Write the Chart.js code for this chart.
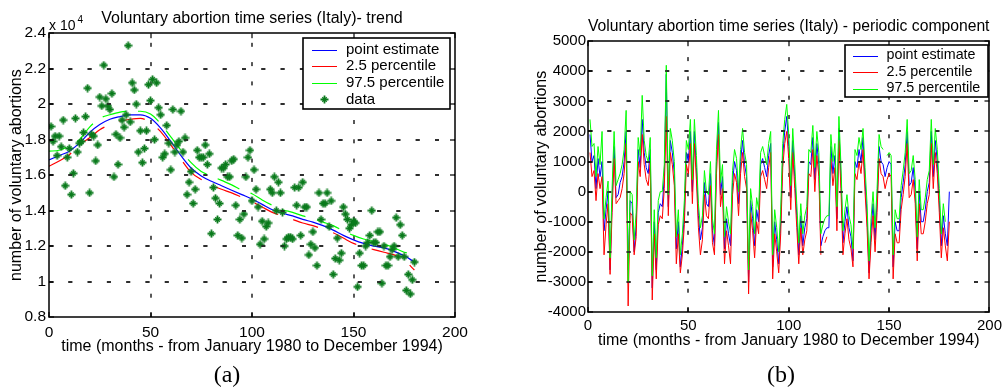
<!DOCTYPE html>
<html><head><meta charset="utf-8">
<script src="https://cdn.jsdelivr.net/npm/chart.js@4.4.0/dist/chart.umd.min.js"></script>
<style>
html,body{margin:0;padding:0;background:#fff;}
#wrap{position:relative;width:1007px;height:390px;overflow:hidden;font-family:"Liberation Sans",Arial,sans-serif;color:#000;}
#c1{position:absolute;left:0;top:0;width:504px;height:390px;}
#c2{position:absolute;left:505px;top:0;width:502px;height:390px;}
.cap{position:absolute;width:60px;text-align:center;font-family:"Liberation Serif","Times New Roman",serif;font-size:24px;line-height:24px;top:362px;}
#exp{position:absolute;left:49px;top:17px;font-size:14px;line-height:16px;white-space:nowrap;}
#exp span{position:relative;font-size:10px;top:-7px;left:2px;}
</style></head>
<body><div id="wrap">
<canvas id="c1" width="504" height="390"></canvas>
<canvas id="c2" width="502" height="390"></canvas>
<div id="exp">x 10<span>4</span></div>
<div class="cap" id="capA" style="left:197px">(a)</div>
<div class="cap" id="capB" style="left:751px">(b)</div>
</div>
<script>
const F = '"Liberation Sans", Arial, sans-serif';

// ---------- Panel (a): trend (values in units of 10^4) ----------
const monthIdx = Array.from({length:180}, (_, i) => i + 1);
const abortionData = [
 1.874,1.79,1.82,1.71,1.82,1.76,1.91,1.54,1.70,1.75,
 1.49,1.61,1.92,1.73,1.78,1.79,1.84,1.93,2.09,1.50,
 1.83,1.82,1.68,1.77,2.04,1.99,2.22,2.03,1.99,1.97,
 2.06,1.59,1.83,1.66,1.81,1.91,1.87,1.94,2.33,1.90,
 2.12,2.08,2.00,1.73,1.85,1.67,1.75,1.85,2.11,2.02,
 2.14,1.80,2.12,1.98,1.94,1.70,1.72,1.88,1.78,1.63,
 1.97,1.73,1.77,1.79,1.96,1.73,1.81,1.49,1.56,1.62,
 1.44,1.52,1.74,1.70,1.70,1.70,1.77,1.66,1.72,1.27,
 1.53,1.47,1.35,1.44,1.64,1.64,1.66,1.59,1.59,1.68,
 1.69,1.43,1.26,1.35,1.245,1.38,1.59,1.70,1.74,1.455,
 1.63,1.52,1.42,1.21,1.34,1.24,1.31,1.33,1.52,1.50,
 1.59,1.40,1.56,1.50,1.39,1.20,1.24,1.25,1.25,1.24,
 1.53,1.43,1.53,1.26,1.56,1.42,1.42,1.15,1.21,1.28,
 1.19,1.09,1.50,1.35,1.44,1.44,1.50,1.31,1.455,1.04,
 1.13,1.245,1.12,1.16,1.42,1.38,1.35,1.30,1.32,1.34,
 1.33,0.97,1.16,1.09,1.09,1.20,1.22,1.26,1.40,1.22,
 1.22,1.28,1.28,0.99,1.20,1.09,1.09,1.14,1.18,1.20,
 1.36,1.14,1.32,1.26,1.14,0.95,1.04,0.93,1.01,1.11
];
const trendMonths = [0,5,10,15,20,25,30,35,40,45,50,55,60,65,70,75,80,85,90,95,100,105,110,115,120,125,130,135,140,145,150,155,160,165,170,175,180];
const trendPoint = [1.685,1.71,1.735,1.78,1.84,1.885,1.915,1.93,1.94,1.94,1.92,1.865,1.79,1.71,1.64,1.595,1.565,1.54,1.515,1.49,1.465,1.435,1.405,1.385,1.37,1.35,1.335,1.315,1.29,1.26,1.235,1.215,1.20,1.19,1.17,1.145,1.11];
const trendP025  = [1.65,1.68,1.715,1.77,1.81,1.855,1.885,1.905,1.915,1.92,1.895,1.845,1.77,1.69,1.615,1.575,1.545,1.52,1.50,1.475,1.45,1.42,1.39,1.37,1.35,1.33,1.315,1.295,1.275,1.245,1.215,1.195,1.18,1.165,1.15,1.12,1.065];
const trendP975  = [1.735,1.74,1.765,1.80,1.87,1.92,1.94,1.955,1.96,1.96,1.945,1.89,1.815,1.74,1.67,1.62,1.595,1.57,1.545,1.515,1.495,1.46,1.43,1.405,1.39,1.37,1.355,1.335,1.315,1.285,1.26,1.24,1.225,1.21,1.19,1.165,1.155];

// ---------- Panel (b): periodic component ----------
const periodicPoint = [
 1900,1000,1200,100,1100,500,1000,-1300,-600,0,
 -2600,-300,1500,-200,-100,300,500,1000,2000,-2600,
 -300,-400,-2000,-1100,1400,800,2400,1300,800,600,
 1400,-3200,-1000,-2600,-700,-400,-500,500,3900,-500,
 1700,1300,600,-1900,-1000,-2500,-1800,-700,1300,1000,
 2000,0,2000,800,-800,-1600,-1200,300,-400,-500,
 600,-1300,-1800,1000,2300,-100,500,-1900,-900,-1400,
 -1800,300,1000,700,-400,1000,1700,900,500,-3000,
 -300,-900,-1800,-600,-1000,900,1100,800,500,1200,
 1600,-2500,-1000,-1600,-2400,-1000,1200,2000,2500,1500,
 -200,1700,500,-800,-2100,-800,-1800,-1200,-900,1000,
 900,1800,400,1600,900,-1800,-1500,-1300,-1200,-1200,
 1500,600,1200,-900,2100,500,-1700,-1000,-500,-1200,
 -1500,-2300,1000,800,1400,1000,1800,400,-800,-2700,
 -1300,-400,-1600,-300,1500,1000,900,500,800,1000,
 900,-2500,-1000,-1300,-1300,-200,300,900,2000,200,
 300,800,0,-1900,0,-1000,-1000,-600,0,300,
 2000,500,1700,1000,-300,-1800,-800,-1400,-1800,0
];
const periodicP025 = [
 1300,500,700,-300,600,100,500,-2100,-1100,-400,
 -2750,-700,1100,-400,-300,-200,100,600,1600,-3800,
 -700,-800,-2100,-1500,1000,500,1900,900,400,200,
 1000,-3600,-1400,-2900,-1100,-800,-900,100,2500,-800,
 1300,900,200,-2400,-1400,-2700,-2100,-1100,900,600,
 1600,-400,1600,400,-1200,-2100,-1600,-100,-800,-900,
 200,-1700,-2100,600,1900,-500,100,-2400,-1300,-1800,
 -2400,-100,600,300,-800,600,1300,500,100,-3400,
 -700,-1300,-2200,-1000,-1400,500,700,400,100,800,
 1300,-2900,-1400,-2000,-2700,-1400,800,1600,2000,1100,
 -600,1300,100,-1200,-2400,-1200,-2100,-1600,-1300,600,
 500,1400,0,1200,500,-2100,null,-1700,-1500,null,
 1100,200,800,-1300,1700,100,-2100,-1400,-900,-1600,
 -1900,-2500,600,400,1000,600,1400,0,-1200,-2900,
 -1700,-800,-2000,-700,1100,600,500,100,400,600,
 500,-2900,-1400,-1700,-1700,-600,-100,500,1600,-200,
 -100,400,-400,-2300,-400,-1400,-1400,-1000,-400,-100,
 1600,100,1300,600,-700,-2200,-1200,-1800,-2300,-1000
];
const periodicP975 = [
 2400,1500,1600,500,1500,900,2000,-900,-200,350,
 -2200,100,2000,200,400,600,900,1400,2700,-3000,
 0,-100,-1600,-700,1800,1200,3200,1700,1200,1000,
 1800,-2800,-600,-2200,-300,0,0,900,4200,-100,
 2100,1700,1000,-1500,-600,-2100,-1400,-300,1700,1400,
 2400,400,2400,1200,-400,-1200,-800,700,0,-100,
 1000,-900,-1400,1400,2700,300,900,-1500,-500,-1000,
 -1400,700,1400,1100,0,1400,2100,1300,900,-2600,
 100,-500,-1400,-200,-600,1300,1500,1200,900,1600,
 2000,-2100,-600,-1200,-2000,-600,1600,2400,2900,1900,
 200,2100,900,-400,-1700,-400,-1400,-800,-500,1400,
 1300,2200,800,2000,1300,-1400,-1100,-900,-800,-800,
 1900,1000,1600,-500,2500,900,-1300,-600,-100,-800,
 -1100,-1900,1400,1200,1800,1400,2100,800,-400,-2300,
 -900,0,-1200,100,1900,1500,1400,null,1200,1300,
 1200,-2100,-600,-900,-900,200,700,1300,2400,600,
 700,1200,400,-1500,400,-600,-600,-200,400,700,
 2400,900,2100,1400,100,-1400,-400,-1000,null,600
];

// ---------- axes / text ----------
const xTickValues = [0,50,100,150,200];
const xTickLabels = ['0','50','100','150','200'];
const yTickValuesA = [0.8,1,1.2,1.4,1.6,1.8,2,2.2,2.4];
const yTickLabelsA = ['0.8','1','1.2','1.4','1.6','1.8','2','2.2','2.4'];
const yTickValuesB = [-4000,-3000,-2000,-1000,0,1000,2000,3000,4000,5000];
const yTickLabelsB = ['-4000','-3000','-2000','-1000','0','1000','2000','3000','4000','5000'];
const titleA = 'Voluntary abortion time series (Italy)- trend';
const titleB = 'Voluntary abortion time series (Italy) - periodic component';
const xTitle = 'time (months - from January 1980 to December 1994)';
const yTitle = 'number of voluntary abortions';
const seriesLabels = ['point estimate','2.5 percentile','97.5 percentile','data'];
const colors = {point:'#0000ff', p025:'#ff0000', p975:'#00ff00', data:'#0a7a1c'};

const pts = (xs, ys) => xs.map((x, i) => ({x: x, y: ys[i]}));

// MATLAB-like '*' marker sprite (style only)
function makeStar(color) {
  const c = document.createElement('canvas');
  c.width = 9; c.height = 9;
  const g = c.getContext('2d');
  g.strokeStyle = color; g.lineCap = 'butt';
  g.lineWidth = 1.8;
  g.beginPath();
  g.moveTo(4.5, 0.5); g.lineTo(4.5, 8.5);
  g.moveTo(0.5, 4.5); g.lineTo(8.5, 4.5);
  g.stroke();
  g.lineWidth = 1.4;
  g.beginPath();
  g.moveTo(2.3, 2.3); g.lineTo(6.7, 6.7);
  g.moveTo(6.7, 2.3); g.lineTo(2.3, 6.7);
  g.stroke();
  return c;
}
const starMarker = makeStar(colors.data);

// dashed grid at the scales' tick positions (MATLAB style: 4px dash, ~19px period)
function drawDashGrid(chart, vertical, horizontal) {
  const {ctx, chartArea: a, scales} = chart;
  const dash = 4, period = 19.3, th = 1.5;
  ctx.save();
  ctx.fillStyle = '#222';
  const xs = scales.x, ys = scales.y;
  if (vertical) {
    for (let i = 0; i < xs.ticks.length; i++) {
      const px = Math.round(xs.getPixelForTick(i));
      if (!isFinite(px) || px < a.left + 2 || px > a.right - 2) continue;
      for (let y = a.bottom; y > a.top; y -= period) {
        const y0 = Math.max(a.top, y - dash);
        ctx.fillRect(px - th / 2, y0, th, y - y0);
      }
    }
  }
  if (horizontal) {
    for (let i = 0; i < ys.ticks.length; i++) {
      const py = Math.round(ys.getPixelForTick(i));
      if (!isFinite(py) || py < a.top + 2 || py > a.bottom - 2) continue;
      for (let x = a.left; x < a.right; x += period) {
        const x1 = Math.min(a.right, x + dash);
        ctx.fillRect(x, py - th / 2, x1 - x, th);
      }
    }
  }
  ctx.restore();
}
const gridPlugin = {
  id: 'dashGrid',
  beforeDatasetsDraw(chart) { drawDashGrid(chart, true, true); },
  afterDatasetsDraw(chart) { drawDashGrid(chart, false, true); }
};

// frame + inward tick marks (MATLAB box)
const framePlugin = {
  id: 'frame',
  afterDatasetsDraw(chart) {
    const {ctx, chartArea: a, scales} = chart;
    ctx.save();
    ctx.fillStyle = '#000';
    const xs = scales.x, ys = scales.y;
    for (let i = 0; i < xs.ticks.length; i++) {
      const px = Math.round(xs.getPixelForTick(i));
      ctx.fillRect(px - 0.6, a.bottom - 5, 1.2, 5);
      ctx.fillRect(px - 0.6, a.top, 1.2, 5);
    }
    for (let i = 0; i < ys.ticks.length; i++) {
      const py = Math.round(ys.getPixelForTick(i));
      ctx.fillRect(a.left, py - 0.6, 5, 1.2);
      ctx.fillRect(a.right - 5, py - 0.6, 5, 1.2);
    }
    ctx.strokeStyle = '#000';
    ctx.lineWidth = 1.5;
    ctx.strokeRect(Math.round(a.left), Math.round(a.top), Math.round(a.right - a.left), Math.round(a.bottom - a.top));
    ctx.restore();
  }
};

// boxed legend drawn inside the plot
const boxLegend = {
  id: 'boxLegend',
  afterDraw(chart, args, o) {
    const ctx = chart.ctx;
    ctx.save();
    ctx.fillStyle = '#fff';
    ctx.fillRect(o.x, o.y, o.w, o.h);
    ctx.lineWidth = 1.6;
    ctx.strokeStyle = '#000';
    ctx.strokeRect(o.x, o.y, o.w, o.h);
    ctx.font = o.font;
    ctx.textBaseline = 'middle';
    chart.data.datasets.forEach((ds, i) => {
      const cy = o.y0 + i * o.rowH;
      if (ds.showLine === false) {
        const img = ds.pointStyle;
        ctx.drawImage(img, Math.round((o.lx0 + o.lx1) / 2 - img.width / 2), Math.round(cy - img.height / 2));
      } else {
        ctx.strokeStyle = ds.borderColor;
        ctx.lineWidth = 1;
        ctx.setLineDash([]);
        ctx.beginPath();
        ctx.moveTo(o.lx0, Math.round(cy) + 0.5);
        ctx.lineTo(o.lx1, Math.round(cy) + 0.5);
        ctx.stroke();
      }
      ctx.fillStyle = '#000';
      ctx.fillText(ds.label, o.tx, cy);
    });
    ctx.restore();
  }
};

function axes(yVals, yLabels, ymin, ymax, o) {
  return {
    x: {
      type: 'linear', min: 0, max: 200,
      afterBuildTicks: s => { s.ticks = xTickValues.map(v => ({value: v})); },
      ticks: {callback: (v, i) => xTickLabels[i], font: {family: F, size: o.tickSize}, color: '#000', padding: o.xTickPad, maxRotation: 0, autoSkip: false},
      grid: {display: false, drawTicks: false},
      border: {display: false},
      title: {display: true, text: xTitle, font: {family: F, size: 16}, color: '#000', padding: {top: 0, bottom: o.xTitlePad}},
      afterFit: s => { s.height = o.xH; }
    },
    y: {
      type: 'linear', min: ymin, max: ymax,
      afterBuildTicks: s => { s.ticks = yVals.map(v => ({value: v})); },
      ticks: {callback: (v, i) => yLabels[i], font: {family: F, size: o.tickSize}, color: '#000', padding: o.yTickPad, autoSkip: false},
      grid: {display: false, drawTicks: false},
      border: {display: false},
      title: {display: true, text: yTitle, font: {family: F, size: 16}, color: '#000', padding: {top: o.yTitlePad, bottom: 0}},
      afterFit: s => { s.width = o.yW; }
    }
  };
}

new Chart(document.getElementById('c1'), {
  type: 'line',
  data: {
    datasets: [
      {label: seriesLabels[0], data: pts(trendMonths, trendPoint), borderColor: colors.point, borderWidth: 1.2, pointRadius: 0, cubicInterpolationMode: 'monotone', order: 3},
      {label: seriesLabels[1], data: pts(trendMonths, trendP025), borderColor: colors.p025, borderWidth: 1.2, pointRadius: 0, cubicInterpolationMode: 'monotone', borderDash: [26, 16], order: 2},
      {label: seriesLabels[2], data: pts(trendMonths, trendP975), borderColor: colors.p975, borderWidth: 1.2, pointRadius: 0, cubicInterpolationMode: 'monotone', borderDash: [24, 12], borderDashOffset: 6, order: 1},
      {label: seriesLabels[3], data: pts(monthIdx, abortionData), showLine: false, pointStyle: starMarker, pointRadius: 4, borderColor: colors.data, backgroundColor: colors.data, order: 0}
    ]
  },
  options: {
    responsive: false, animation: false, devicePixelRatio: 1,
    layout: {padding: {left: 0, right: 49, top: 0, bottom: 28}},
    plugins: {
      legend: {display: false}, tooltip: {enabled: false},
      title: {display: true, text: titleA, fullSize: false, font: {family: F, size: 16, weight: 'normal'}, color: '#000', padding: {top: 9, bottom: 5}},
      boxLegend: {x: 303, y: 38, w: 147, h: 71, y0: 49.5, rowH: 16.7, lx0: 312, lx1: 337, tx: 346, font: '15px ' + F}
    },
    scales: axes(yTickValuesA, yTickLabelsA, 0.8, 2.4, {tickSize: 15.5, xTickPad: 6, yTickPad: 3, xTitlePad: 6, xH: 45, yW: 49, yTitlePad: 7})
  },
  plugins: [gridPlugin, framePlugin, boxLegend]
});

new Chart(document.getElementById('c2'), {
  type: 'line',
  data: {
    datasets: [
      {label: seriesLabels[0], data: pts(monthIdx, periodicPoint), borderColor: colors.point, borderWidth: 1, pointRadius: 0, order: 2},
      {label: seriesLabels[1], data: pts(monthIdx, periodicP025), borderColor: colors.p025, borderWidth: 1, pointRadius: 0, order: 1},
      {label: seriesLabels[2], data: pts(monthIdx, periodicP975), borderColor: colors.p975, borderWidth: 1, pointRadius: 0, order: 0}
    ]
  },
  options: {
    responsive: false, animation: false, devicePixelRatio: 1,
    layout: {padding: {left: 0, right: 14, top: 0, bottom: 34}},
    plugins: {
      legend: {display: false}, tooltip: {enabled: false},
      title: {display: true, text: titleB, fullSize: false, font: {family: F, size: 16, weight: 'normal'}, color: '#000', padding: {top: 17, bottom: 5}},
      boxLegend: {x: 340, y: 45, w: 143, h: 52, y0: 55.5, rowH: 16.5, lx0: 348, lx1: 373, tx: 381.5, font: '14.3px ' + F}
    },
    scales: axes(yTickValuesB, yTickLabelsB, -4000, 5000, {tickSize: 15, xTickPad: 5, yTickPad: 2, xTitlePad: 6, xH: 44, yW: 83, yTitlePad: 27})
  },
  plugins: [gridPlugin, framePlugin, boxLegend]
});
</script>
</body></html>
